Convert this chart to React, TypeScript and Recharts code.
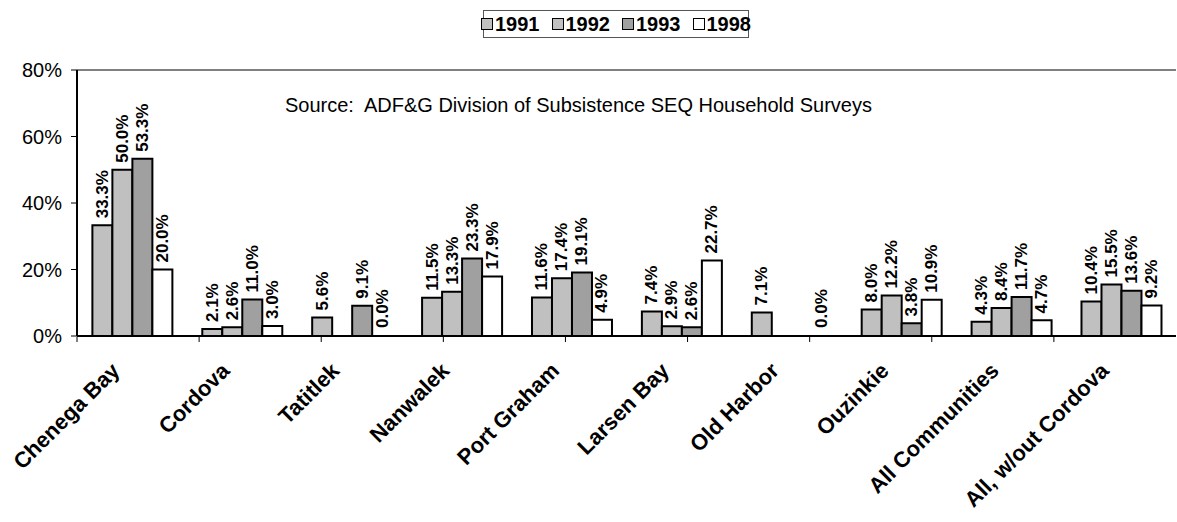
import { BarChart, Bar, XAxis, YAxis, LabelList, ReferenceLine, Cell } from 'recharts'

const COMMUNITIES = ['Chenega Bay', 'Cordova', 'Tatitlek', 'Nanwalek', 'Port Graham', 'Larsen Bay', 'Old Harbor', 'Ouzinkie', 'All Communities', 'All, w/out Cordova']
const Y1991 = [33.3, 2.1, 5.6, 11.5, 11.6, 7.4, 7.1, 8.0, 4.3, 10.4]
const Y1992 = [50.0, 2.6, null, 13.3, 17.4, 2.9, null, 12.2, 8.4, 15.5]
const Y1993 = [53.3, 11.0, 9.1, 23.3, 19.1, 2.6, null, 3.8, 11.7, 13.6]
const Y1998 = [20.0, 3.0, 0.0, 17.9, 4.9, 22.7, 0.0, 10.9, 4.7, 9.2]
const Y_TICKS = [0, 20, 40, 60, 80]
const BOUNDARIES = [0, 1, 2, 3, 4, 5, 6, 7, 8, 9, 10]

const SERIES = [
  { key: 'y1991', name: '1991', fill: '#c0c0c0' },
  { key: 'y1992', name: '1992', fill: '#c0c0c0' },
  { key: 'y1993', name: '1993', fill: '#a0a0a0' },
  { key: 'y1998', name: '1998', fill: '#ffffff' },
]

const data = COMMUNITIES.map((c, i) => ({
  name: c,
  y1991: Y1991[i],
  y1992: Y1992[i],
  y1993: Y1993[i],
  y1998: Y1998[i],
}))

const FONT = 'Arial, "Liberation Sans", Helvetica, sans-serif'

// rotated value label sitting on top of each bar
const ValueLabel = (p: any) => {
  if (p.value === null || p.value === undefined) return null
  const cx = p.x + p.width / 2
  const y = p.y - 7
  return (
    <text x={cx} y={y} transform={`rotate(-90 ${cx} ${y})`} textAnchor="start" dominantBaseline="central"
      fontFamily={FONT} fontWeight="bold" fontSize={17} fill="#000">
      {`${Number(p.value).toFixed(1)}%`}
    </text>
  )
}

const CategoryTick = (p: any) => {
  const x = p.x - 11
  const y = p.y + 28
  return (
    <text x={x} y={y} transform={`rotate(-45 ${x} ${y})`} textAnchor="end"
      fontFamily={FONT} fontWeight="bold" fontSize={22} fill="#000">
      {p.payload.value}
    </text>
  )
}

export default function App() {
  return (
    <div style={{ position: 'absolute', left: 0, top: 0, width: 1177, height: 522, background: '#fff', fontFamily: FONT }}>
      {/* legend */}
      <div style={{ position: 'absolute', left: 483, top: 10, width: 264, height: 26, border: '1.5px solid #555', display: 'flex', alignItems: 'center', justifyContent: 'center', gap: 12 }}>
        {SERIES.map(s => (
          <div key={s.key} style={{ display: 'flex', alignItems: 'center', gap: 2 }}>
            <div style={{ width: 10, height: 10, background: s.fill, border: '1.5px solid #000' }} />
            <span style={{ fontSize: 20, fontWeight: 'bold', lineHeight: 1 }}>{s.name}</span>
          </div>
        ))}
      </div>

      <div style={{ position: 'absolute', left: 285, top: 95, fontSize: 20, lineHeight: 1, whiteSpace: 'pre', color: '#000' }}>
        Source:  ADF&amp;G Division of Subsistence SEQ Household Surveys
      </div>

      <BarChart width={1177} height={522} data={data} margin={{ top: 70, right: 1, bottom: 35, left: 0 }}
        barCategoryGap="14%" barGap={0}>
        {/* category names (inner axis, labels overflow downward) */}
        <XAxis dataKey="name" height={1} axisLine={false} tickLine={false} interval={0} tick={<CategoryTick />} />
        {/* tick marks at the category boundaries */}
        <XAxis xAxisId="b" type="number" domain={[0, 10]} ticks={BOUNDARIES} height={150}
          axisLine={false} tickLine={{ stroke: '#000', strokeWidth: 1 }} tickSize={5}
          tick={() => <g />} />
        <YAxis domain={[0, 80]} ticks={Y_TICKS} width={77} tickFormatter={(v: number) => `${v}%`}
          axisLine={{ stroke: '#000', strokeWidth: 2 }} tickLine={{ stroke: '#000' }} tickSize={6} tickMargin={9}
          tick={{ fill: '#000', fontSize: 20, fontFamily: FONT }} />
        <ReferenceLine y={80} stroke="#808080" strokeWidth={2} />
        <ReferenceLine xAxisId="b" x={10} stroke="#808080" strokeWidth={2} />
        {SERIES.map(s => (
          <Bar key={s.key} dataKey={s.key} name={s.name} fill={s.fill} stroke="#000" strokeWidth={2}
            minPointSize={s.key === 'y1998' ? 1 : 0} isAnimationActive={false}>
            {data.map((d: any, i: number) => (
              <Cell key={i} stroke={d[s.key] === 0 ? 'none' : '#000'} />
            ))}
            <LabelList dataKey={s.key} content={<ValueLabel />} />
          </Bar>
        ))}
        <ReferenceLine y={0} stroke="#000" strokeWidth={2} />
      </BarChart>
    </div>
  )
}
